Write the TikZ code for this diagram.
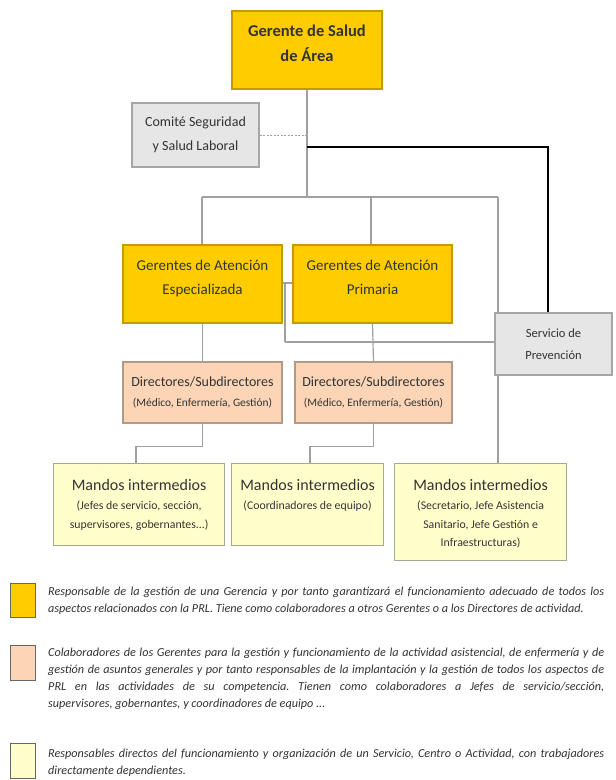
\documentclass[tikz,border=0pt]{standalone}
\usepackage{fontspec}
\setmainfont{Carlito}
\definecolor{gold}{HTML}{FFCC00}
\definecolor{goldline}{HTML}{C49A00}
\definecolor{peach}{HTML}{FBD5B5}
\definecolor{peachline}{HTML}{B09A88}
\definecolor{lyellow}{HTML}{FFFFCC}
\definecolor{lyline}{HTML}{A8A890}
\definecolor{lgray}{HTML}{E6E6E6}
\definecolor{grayline}{HTML}{A6A6A6}
\definecolor{conn}{HTML}{A0A0A0}
\definecolor{txt}{HTML}{333333}
\begin{document}
\frenchspacing
\begin{tikzpicture}[x=1pt,y=-1pt,
  box/.style={rectangle, draw, line width=1.2pt, inner sep=0pt, align=center, text=txt},
  goldbox/.style={box, fill=gold, draw=goldline, text depth=13pt},
  peachbox/.style={box, fill=peach, draw=peachline},
  ybox/.style={box, fill=lyellow, draw=lyline},
  graybox/.style={box, fill=lgray, draw=grayline},
  fbig/.style={font=\fontsize{16.5}{25}\selectfont\bfseries},
  fmid/.style={font=\fontsize{15}{23.5}\selectfont},
  fsmall/.style={font=\fontsize{14}{20}\selectfont},
  line/.style={draw=conn, line width=1.2pt},
  blackline/.style={draw=black, line width=1.6pt},
  legsq/.style={rectangle, draw=black!60, line width=1.3pt, minimum width=25pt, inner sep=0pt},
  legtext/.style={anchor=north west, inner sep=0pt, text width=556pt, align=justify,
    font=\fontsize{12.2}{17}\selectfont\itshape, text=txt}
]
\useasboundingbox (0,0) rectangle (616,780);
\fill[white] (0,0) rectangle (616,780);

% junction points
\coordinate (busL) at (202,197);
\coordinate (busM) at (307,197);
\coordinate (busC) at (371,197);
\coordinate (busR) at (498,197);
\coordinate (dotJ) at (307,135);
\coordinate (blkJ) at (307,147);
\coordinate (blkC) at (548,147);
\coordinate (jG) at (285,283);
\coordinate (jGd) at (285,342);

% boxes
\node[goldbox, fbig, minimum width=150pt, minimum height=78pt] (top) at (307,50) {Gerente de Salud\\de Área};
\node[graybox, font=\fontsize{14}{24}\selectfont, minimum width=127pt, minimum height=64pt] (com) at (195.5,135) {Comité Seguridad\\y Salud Laboral};
\node[goldbox, fmid, minimum width=159pt, minimum height=78pt] (g1) at (202.5,284) {Gerentes de Atención\\Especializada};
\node[goldbox, fmid, minimum width=159pt, minimum height=78pt] (g2) at (372.5,284) {Gerentes de Atención\\Primaria};
\node[peachbox, fsmall, minimum width=159pt, minimum height=61pt] (d1) at (202.5,392.5) {Directores/Subdirectores\\{\fontsize{11.4}{12}\selectfont(Médico, Enfermería, Gestión)}};
\node[peachbox, fsmall, minimum width=157pt, minimum height=61pt] (d2) at (373.5,392.5) {Directores/Subdirectores\\{\fontsize{11.4}{12}\selectfont(Médico, Enfermería, Gestión)}};

% lines
\draw[line] (top.south) -- (busM);
\draw[line] (busL) -- (busR);
\draw[line] (busL) -- (g1.north -| busL);
\draw[line] (busC) -- (g2.north -| busC);
\draw[line, dash pattern=on 2pt off 1.5pt, line width=1pt] (com.east |- dotJ) -- (dotJ);
\draw[line] (g1.east |- jG) -- (g2.west |- jG);
\draw[line] (jG) -- (jGd);
\draw[line] (g1.south) -- (d1.north);
\draw[line] (g2.south) -- (d2.north);

\node[ybox, minimum width=171pt, minimum height=82pt, anchor=north west] (m1) at (53,463)
  {\parbox[t][78pt][t]{167pt}{\centering\vspace*{14pt}\fontsize{16}{18.7}\selectfont Mandos intermedios\\
   \fontsize{11.8}{18.7}\selectfont(Jefes de servicio, sección,\\supervisores, gobernantes...)}};
\node[ybox, minimum width=152pt, minimum height=82pt, anchor=north west] (m2) at (231,463)
  {\parbox[t][78pt][t]{148pt}{\centering\vspace*{14pt}\fontsize{16}{18.7}\selectfont Mandos intermedios\\
   \fontsize{11.8}{18.7}\selectfont(Coordinadores de equipo)}};
\node[ybox, minimum width=172pt, minimum height=97pt, anchor=north west] (m3) at (394,463)
  {\parbox[t][93pt][t]{168pt}{\centering\vspace*{14pt}\fontsize{16}{18.7}\selectfont Mandos intermedios\\
   \fontsize{11.8}{18.7}\selectfont(Secretario, Jefe Asistencia\\Sanitario, Jefe Gestión e\\Infraestructuras)}};

\draw[line] (busR) -- (m3.north -| busR);
\draw[line] (d1.south) -- ++(0,23) -| (m1.north -| 136,0);
\draw[line] (d2.south) -- ++(0,23) -| (m2.north -| 310,0);

\node[graybox, font=\fontsize{12.5}{22}\selectfont, minimum width=117pt, minimum height=62pt] (serv) at (553.5,344) {Servicio de\\Prevención};

\draw[line] (jGd) -- (serv.west |- jGd);
\draw[blackline] (blkJ) -- (blkC) -- (serv.north -| blkC);

% legend
\node[legsq, fill=gold, minimum height=34pt, anchor=north west] (sq1) at (10,583) {};
\node[legsq, fill=peach, minimum height=35pt, anchor=north west] (sq2) at (10,645) {};
\node[legsq, fill=lyellow, minimum height=35pt, anchor=north west] (sq3) at (10,743) {};

\node[legtext] (t1) at (48,587) {Responsable de la gestión de una Gerencia y por tanto garantizará el funcionamiento adecuado de todos los\linebreak aspectos relacionados con la PRL. Tiene como colaboradores a otros Gerentes o a los Directores de actividad.};
\node[legtext] (t2) at (48,648) {Colaboradores de los Gerentes para la gestión y funcionamiento de la actividad asistencial, de enfermería y de\linebreak gestión de asuntos generales y por tanto responsables de la implantación y la gestión de todos los aspectos de\linebreak PRL en las actividades de su competencia. Tienen como colaboradores a Jefes de servicio/sección,\linebreak supervisores, gobernantes, y coordinadores de equipo ...};
\node[legtext] (t3) at (48,749) {Responsables directos del funcionamiento y organización de un Servicio, Centro o Actividad, con trabajadores\linebreak directamente dependientes.};
\end{tikzpicture}
\end{document}
